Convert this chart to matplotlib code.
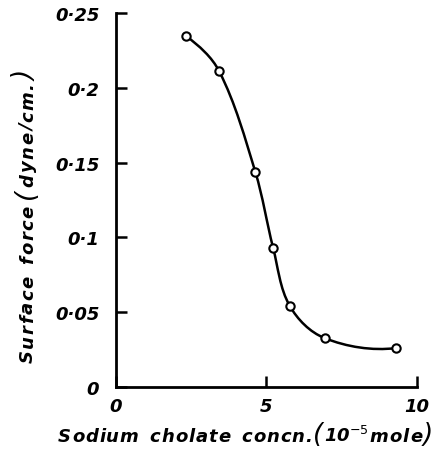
import numpy as np
import matplotlib
matplotlib.use("Agg")
import matplotlib.pyplot as plt
from matplotlib.path import Path
from matplotlib.patches import PathPatch

# Data
conc = [2.33, 3.43, 4.63, 5.22, 5.77, 6.93, 9.30]          # 10^-5 mole
force = [0.2346, 0.211, 0.1437, 0.093, 0.0543, 0.0327, 0.026]  # dyne/cm
x_ticks = [0, 5, 10]
x_tick_labels = ["0", "5", "10"]
y_ticks = [0, 0.05, 0.1, 0.15, 0.2, 0.25]
y_tick_labels = ["0", "0·05", "0·1", "0·15", "0·2", "0·25"]

W, H = 437, 452
fig = plt.figure(figsize=(W / 100, H / 100), dpi=100)
ax = fig.add_axes([116 / W, 1 - 388 / H, (417 - 116) / W, (388 - 14) / H])
ax.set_xlim(0, 10)
ax.set_ylim(0, 0.25)

font = dict(family="DejaVu Sans", weight="bold", style="italic")

# Smooth curve (geometric cubic Bezier in display-proportional space)
sx, sy = 301 / 10, 374 / 0.25
P = np.column_stack([np.array(conc) * sx, np.array(force) * sy])
n = len(P)
D = np.zeros_like(P)
for i in range(1, n - 1):
    d = P[i + 1] - P[i - 1]
    D[i] = d / np.linalg.norm(d)
d0 = np.array([1.0, -0.75])
D[0] = d0 / np.linalg.norm(d0)
dn = np.array([1.0, 0.12])
D[-1] = dn / np.linalg.norm(dn)
verts = [P[0]]
codes = [Path.MOVETO]
for i in range(n - 1):
    L = np.linalg.norm(P[i + 1] - P[i])
    verts += [P[i] + D[i] * L / 3, P[i + 1] - D[i + 1] * L / 3, P[i + 1]]
    codes += [Path.CURVE4] * 3
verts = np.array(verts) / np.array([sx, sy])
curve = PathPatch(Path(verts, codes), facecolor="none", edgecolor="black",
                  linewidth=1.8, zorder=2)
ax.add_patch(curve)

ax.plot(conc, force, linestyle="none", marker="o", markersize=6,
        markerfacecolor="white", markeredgecolor="black",
        markeredgewidth=1.5, zorder=3)

for s in ["top", "right"]:
    ax.spines[s].set_visible(False)
for s in ["left", "bottom"]:
    ax.spines[s].set_linewidth(2.0)
    ax.spines[s].set_color("black")
    ax.spines[s].set_capstyle("projecting")

ax.set_xticks(x_ticks)
ax.set_xticklabels(x_tick_labels, **font, fontsize=13)
ax.set_yticks(y_ticks)
ax.set_yticklabels(y_tick_labels, **font, fontsize=13)
ax.tick_params(axis="both", direction="in", length=8, width=1.8, color="black")
ax.tick_params(axis="y", pad=12)
ax.tick_params(axis="x", pad=7)

# Axis labels composed of pieces (letter-spaced, large parentheses)
renderer = fig.canvas.get_renderer()


def compose(pieces, start, baseline, track, vertical=False):
    pos = start
    for txt, size, weight, split in pieces:
        kw = dict(family="DejaVu Sans", style="italic", weight=weight,
                  fontsize=size)
        tokens = list(txt) if split else [txt]
        for tok in tokens:
            if tok == " ":
                pos += (-1 if vertical else 1) * size * 0.4
                continue
            if vertical:
                t = fig.text(baseline / W, 1 - pos / H, tok, rotation=90,
                             rotation_mode="anchor", ha="left",
                             va="baseline", **kw)
                bb = t.get_window_extent(renderer)
                pos -= bb.height + track
            else:
                t = fig.text(pos / W, 1 - baseline / H, tok, ha="left",
                             va="baseline", **kw)
                bb = t.get_window_extent(renderer)
                pos += bb.width + track


compose([("Sodium  cholate  concn.", 13, "bold", True),
         ("(", 19, "normal", False),
         ("10$^{-5}$", 13, "bold", False),
         ("mole", 13, "bold", True),
         (")", 19, "normal", False)], 58, 442, 0.9)

compose([("Surface  force ", 13, "bold", True),
         ("(", 19, "normal", False),
         ("dyne/cm.", 13, "bold", True),
         (")", 19, "normal", False)], 363, 33, 1.6, vertical=True)

fig.savefig("out.png", dpi=100)
